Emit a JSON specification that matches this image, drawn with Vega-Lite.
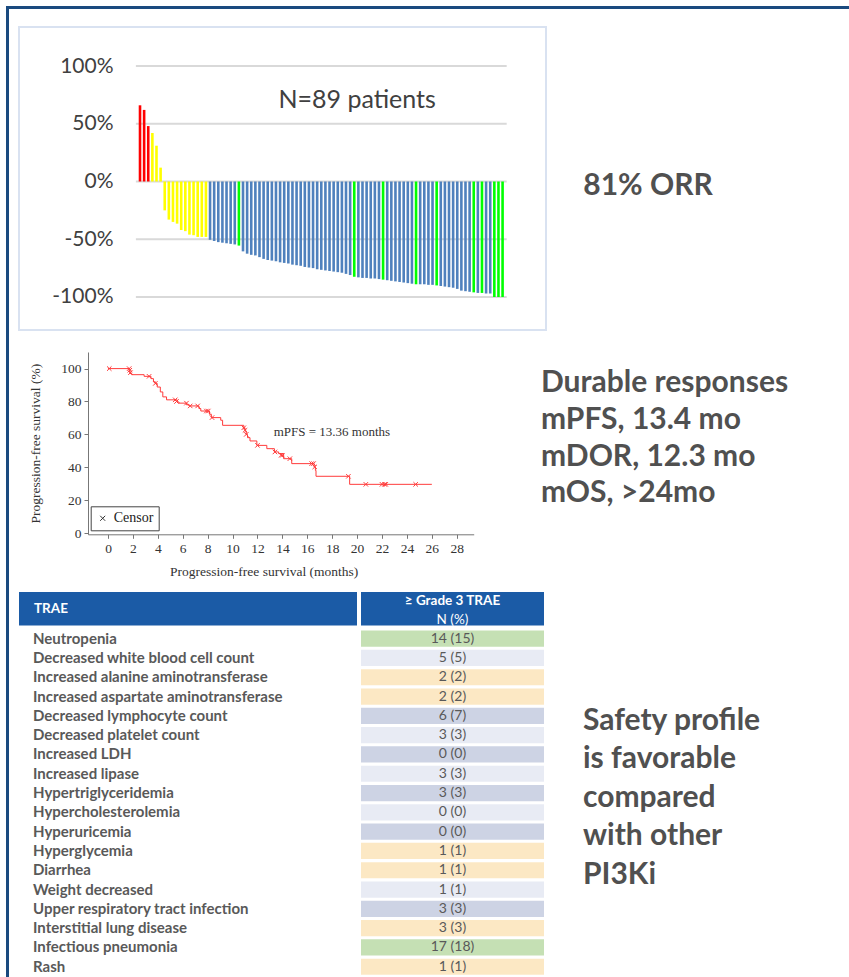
{
  "$schema": "https://vega.github.io/schema/vega-lite/v6.json",
  "background": "white",
  "padding": {"left": 6, "top": 6, "right": 0, "bottom": 0},
  "config": {
    "view": {"stroke": null},
    "font": "Lato",
    "axis": {
      "labelFont": "Liberation Serif", "labelFontSize": 13.5, "labelColor": "#333",
      "titleFont": "Liberation Serif", "titleFontSize": 13.5, "titleFontWeight": "normal", "titleColor": "#333",
      "domainColor": "#777", "tickColor": "#777", "tickSize": 4, "labelPadding": 3, "grid": false,
      "labelFlush": false, "labelOverlap": false
    }
  },
  "datasets": {
    "waterfall": [
      {"rank": 1, "pct": 66, "resp": "PD"}, {"rank": 2, "pct": 62, "resp": "PD"}, {"rank": 3, "pct": 48, "resp": "PD"},
      {"rank": 4, "pct": 42, "resp": "SD"}, {"rank": 5, "pct": 31, "resp": "SD"}, {"rank": 6, "pct": 12, "resp": "SD"},
      {"rank": 7, "pct": -25, "resp": "SD"}, {"rank": 8, "pct": -33, "resp": "SD"}, {"rank": 9, "pct": -35, "resp": "SD"},
      {"rank": 10, "pct": -36.5, "resp": "SD"}, {"rank": 11, "pct": -42, "resp": "SD"}, {"rank": 12, "pct": -43, "resp": "SD"},
      {"rank": 13, "pct": -46, "resp": "SD"}, {"rank": 14, "pct": -46.5, "resp": "SD"}, {"rank": 15, "pct": -48, "resp": "SD"},
      {"rank": 16, "pct": -48, "resp": "SD"}, {"rank": 17, "pct": -48, "resp": "SD"},
      {"rank": 18, "pct": -50.5, "resp": "PR"}, {"rank": 19, "pct": -51.5, "resp": "PR"}, {"rank": 20, "pct": -52.5, "resp": "PR"},
      {"rank": 21, "pct": -53, "resp": "PR"}, {"rank": 22, "pct": -53.5, "resp": "PR"}, {"rank": 23, "pct": -54, "resp": "PR"},
      {"rank": 24, "pct": -54.5, "resp": "PR"}, {"rank": 25, "pct": -55.5, "resp": "CR"}, {"rank": 26, "pct": -60.5, "resp": "PR"},
      {"rank": 27, "pct": -62.5, "resp": "PR"}, {"rank": 28, "pct": -63.5, "resp": "PR"}, {"rank": 29, "pct": -64, "resp": "PR"},
      {"rank": 30, "pct": -65.5, "resp": "PR"}, {"rank": 31, "pct": -67, "resp": "PR"}, {"rank": 32, "pct": -68, "resp": "PR"},
      {"rank": 33, "pct": -68.5, "resp": "PR"}, {"rank": 34, "pct": -69, "resp": "PR"}, {"rank": 35, "pct": -70, "resp": "PR"},
      {"rank": 36, "pct": -70.5, "resp": "PR"}, {"rank": 37, "pct": -71, "resp": "PR"}, {"rank": 38, "pct": -72, "resp": "PR"},
      {"rank": 39, "pct": -72.5, "resp": "PR"}, {"rank": 40, "pct": -73, "resp": "PR"}, {"rank": 41, "pct": -74, "resp": "PR"},
      {"rank": 42, "pct": -74.5, "resp": "PR"}, {"rank": 43, "pct": -75, "resp": "PR"}, {"rank": 44, "pct": -76, "resp": "PR"},
      {"rank": 45, "pct": -76.5, "resp": "PR"}, {"rank": 46, "pct": -77, "resp": "PR"}, {"rank": 47, "pct": -77.5, "resp": "PR"},
      {"rank": 48, "pct": -78, "resp": "PR"}, {"rank": 49, "pct": -78.5, "resp": "PR"}, {"rank": 50, "pct": -79, "resp": "PR"},
      {"rank": 51, "pct": -80, "resp": "PR"}, {"rank": 52, "pct": -81, "resp": "PR"}, {"rank": 53, "pct": -82.5, "resp": "CR"},
      {"rank": 54, "pct": -83, "resp": "PR"}, {"rank": 55, "pct": -83.5, "resp": "PR"}, {"rank": 56, "pct": -83.5, "resp": "PR"},
      {"rank": 57, "pct": -84, "resp": "PR"}, {"rank": 58, "pct": -84, "resp": "PR"}, {"rank": 59, "pct": -84.5, "resp": "PR"},
      {"rank": 60, "pct": -85, "resp": "CR"}, {"rank": 61, "pct": -85.5, "resp": "PR"}, {"rank": 62, "pct": -86, "resp": "PR"},
      {"rank": 63, "pct": -86.5, "resp": "PR"}, {"rank": 64, "pct": -87, "resp": "PR"}, {"rank": 65, "pct": -87.5, "resp": "PR"},
      {"rank": 66, "pct": -88, "resp": "PR"}, {"rank": 67, "pct": -88.5, "resp": "PR"}, {"rank": 68, "pct": -89, "resp": "CR"},
      {"rank": 69, "pct": -89, "resp": "PR"}, {"rank": 70, "pct": -89, "resp": "PR"}, {"rank": 71, "pct": -89.5, "resp": "PR"},
      {"rank": 72, "pct": -89.5, "resp": "PR"}, {"rank": 73, "pct": -90, "resp": "CR"}, {"rank": 74, "pct": -90.5, "resp": "PR"},
      {"rank": 75, "pct": -91, "resp": "PR"}, {"rank": 76, "pct": -91.5, "resp": "PR"}, {"rank": 77, "pct": -92, "resp": "PR"},
      {"rank": 78, "pct": -93, "resp": "PR"}, {"rank": 79, "pct": -94.5, "resp": "PR"}, {"rank": 80, "pct": -95, "resp": "PR"},
      {"rank": 81, "pct": -95.5, "resp": "PR"}, {"rank": 82, "pct": -96, "resp": "CR"}, {"rank": 83, "pct": -96.5, "resp": "PR"},
      {"rank": 84, "pct": -96.5, "resp": "CR"}, {"rank": 85, "pct": -97, "resp": "PR"}, {"rank": 86, "pct": -97, "resp": "PR"},
      {"rank": 87, "pct": -100, "resp": "CR"}, {"rank": 88, "pct": -100, "resp": "CR"}, {"rank": 89, "pct": -100, "resp": "CR"}
    ],
    "km": [
      {"t": 0, "s": 100}, {"t": 1.75, "s": 97}, {"t": 1.9, "s": 96.3}, {"t": 2.9, "s": 95.3}, {"t": 3.45, "s": 93.9},
      {"t": 3.65, "s": 92}, {"t": 3.8, "s": 91}, {"t": 3.95, "s": 88.8}, {"t": 4.2, "s": 85.8}, {"t": 4.4, "s": 82.8},
      {"t": 4.7, "s": 81}, {"t": 5.55, "s": 79.7}, {"t": 5.7, "s": 79}, {"t": 6.3, "s": 78}, {"t": 6.5, "s": 77.3},
      {"t": 7.3, "s": 75.7}, {"t": 7.45, "s": 74.2}, {"t": 8.15, "s": 72.2}, {"t": 8.3, "s": 70.2}, {"t": 9.05, "s": 68.6},
      {"t": 9.2, "s": 65.5}, {"t": 10.9, "s": 64}, {"t": 11.0, "s": 62}, {"t": 11.1, "s": 60}, {"t": 11.2, "s": 58},
      {"t": 11.4, "s": 56}, {"t": 11.95, "s": 53.3}, {"t": 12.75, "s": 51.3}, {"t": 13.36, "s": 49.3}, {"t": 13.7, "s": 48.3},
      {"t": 14.1, "s": 45.2}, {"t": 14.75, "s": 42.2}, {"t": 16.55, "s": 40.2}, {"t": 16.65, "s": 38.1}, {"t": 16.7, "s": 34.5},
      {"t": 19.4, "s": 29.6}, {"t": 26.0, "s": 29.6}
    ],
    "censor": [
      {"t": 0.1, "s": 100}, {"t": 1.7, "s": 100}, {"t": 1.75, "s": 99}, {"t": 1.8, "s": 97.5}, {"t": 3.3, "s": 95.3},
      {"t": 3.8, "s": 91}, {"t": 5.4, "s": 81}, {"t": 5.5, "s": 80}, {"t": 6.3, "s": 79}, {"t": 6.6, "s": 77.3},
      {"t": 7.2, "s": 77.3}, {"t": 7.9, "s": 74.2}, {"t": 8.05, "s": 74.2}, {"t": 8.35, "s": 70.2}, {"t": 10.9, "s": 64},
      {"t": 11.0, "s": 62.5}, {"t": 11.1, "s": 60}, {"t": 12.0, "s": 53.3}, {"t": 13.4, "s": 49.3}, {"t": 13.9, "s": 47.3},
      {"t": 14.0, "s": 47.3}, {"t": 14.6, "s": 45.2}, {"t": 16.35, "s": 42.2}, {"t": 16.5, "s": 42.2}, {"t": 16.6, "s": 40.2},
      {"t": 19.3, "s": 34.5}, {"t": 20.7, "s": 29.6}, {"t": 22.0, "s": 29.6}, {"t": 22.2, "s": 29.6}, {"t": 22.3, "s": 29.6},
      {"t": 24.7, "s": 29.6}
    ],
    "trae": [
      {"row": 1, "ae": "Neutropenia", "grade3": "14 (15)", "grp": "common"},
      {"row": 2, "ae": "Decreased white blood cell count", "grade3": "5 (5)", "grp": "other"},
      {"row": 3, "ae": "Increased alanine aminotransferase", "grade3": "2 (2)", "grp": "pi3k"},
      {"row": 4, "ae": "Increased aspartate aminotransferase", "grade3": "2 (2)", "grp": "pi3k"},
      {"row": 5, "ae": "Decreased lymphocyte count", "grade3": "6 (7)", "grp": "other"},
      {"row": 6, "ae": "Decreased platelet count", "grade3": "3 (3)", "grp": "other"},
      {"row": 7, "ae": "Increased LDH", "grade3": "0 (0)", "grp": "other"},
      {"row": 8, "ae": "Increased lipase", "grade3": "3 (3)", "grp": "other"},
      {"row": 9, "ae": "Hypertriglyceridemia", "grade3": "3 (3)", "grp": "other"},
      {"row": 10, "ae": "Hypercholesterolemia", "grade3": "0 (0)", "grp": "other"},
      {"row": 11, "ae": "Hyperuricemia", "grade3": "0 (0)", "grp": "other"},
      {"row": 12, "ae": "Hyperglycemia", "grade3": "1 (1)", "grp": "pi3k"},
      {"row": 13, "ae": "Diarrhea", "grade3": "1 (1)", "grp": "pi3k"},
      {"row": 14, "ae": "Weight decreased", "grade3": "1 (1)", "grp": "other"},
      {"row": 15, "ae": "Upper respiratory tract infection", "grade3": "3 (3)", "grp": "other"},
      {"row": 16, "ae": "Interstitial lung disease", "grade3": "3 (3)", "grp": "pi3k"},
      {"row": 17, "ae": "Infectious pneumonia", "grade3": "17 (18)", "grp": "common"},
      {"row": 18, "ae": "Rash", "grade3": "1 (1)", "grp": "pi3k"}
    ]
  },
  "spacing": 0,
  "bounds": "full",
  "resolve": {"scale": {"color": "independent", "shape": "independent"}, "legend": {"color": "independent", "shape": "independent"}},
  "hconcat": [
    {"width": 3, "height": 971, "data": {"values": []}, "mark": "point", "view": {"fill": "#1a4a7f", "stroke": null}},
    {
      "spacing": 17,
      "bounds": "full",
      "resolve": {"scale": {"color": "independent", "shape": "independent"}, "legend": {"color": "independent", "shape": "independent"}},
      "vconcat": [
        {"width": 840, "height": 3, "data": {"values": []}, "mark": "point", "view": {"fill": "#1a4a7f", "stroke": null}},
        {
          "spacing": 0,
          "bounds": "full",
          "resolve": {"scale": {"color": "independent", "shape": "independent"}, "legend": {"color": "independent", "shape": "independent"}},
          "hconcat": [
            {"width": 9, "height": 1, "data": {"values": []}, "mark": "point"},
            {
              "spacing": 0,
              "bounds": "full",
              "resolve": {"scale": {"color": "independent", "shape": "independent"}, "legend": {"color": "independent", "shape": "independent"}},
              "vconcat": [
                {
                  "spacing": 10,
                  "bounds": "flush",
                  "resolve": {"scale": {"color": "independent"}, "legend": {"color": "independent"}},
                  "hconcat": [
                    {
                      "width": 527,
                      "height": 303,
                      "view": {"stroke": "#d9e2f1", "strokeWidth": 2, "fill": "white"},
                      "layer": [
                        {
                          "data": {"values": [{"v": 100}, {"v": 50}, {"v": 0}, {"v": -50}, {"v": -100}]},
                          "mark": {"type": "rule", "color": "#d9d9d9", "strokeWidth": 2},
                          "encoding": {
                            "y": {"field": "v", "type": "quantitative",
                              "scale": {"domain": [-128.6, 133.8], "nice": false, "zero": false},
                              "axis": {"values": [-100, -50, 0, 50, 100], "orient": "left", "offset": -94, "domain": false,
                                "ticks": false, "tickSize": 0, "labelPadding": 0, "grid": false, "title": null,
                                "labelExpr": "datum.value + '%'", "labelFont": "Lato", "labelFontSize": 21, "labelColor": "#404040"}},
                            "x": {"datum": 0, "type": "quantitative", "scale": {"domain": [-28.37, 99.54], "nice": false, "zero": false, "padding": 0}, "axis": null},
                            "x2": {"datum": 90}
                          }
                        },
                        {
                          "data": {"name": "waterfall"},
                          "mark": {"type": "bar", "orient": "vertical", "size": 2.6},
                          "encoding": {
                            "x": {"field": "rank", "type": "quantitative", "scale": {"domain": [-28.37, 99.54], "nice": false, "zero": false, "padding": 0}, "axis": null},
                            "y": {"field": "pct", "type": "quantitative", "scale": {"domain": [-128.6, 133.8], "nice": false, "zero": false}},
                            "y2": {"datum": 0},
                            "color": {"field": "resp", "type": "nominal",
                              "scale": {"domain": ["PD", "SD", "PR", "CR"], "range": ["#ff0000", "#ffff00", "#4f81bd", "#00ff00"]},
                              "legend": null}
                          }
                        },
                        {
                          "data": {"values": [{"note": "N=89 patients"}]},
                          "mark": {"type": "text", "font": "Lato", "fontSize": 25, "color": "#404040", "align": "center", "baseline": "middle"},
                          "encoding": {
                            "text": {"field": "note"},
                            "x": {"datum": 53.7, "type": "quantitative", "axis": null},
                            "y": {"datum": 70.6, "type": "quantitative"}
                          }
                        }
                      ]
                    },
                    {
                      "width": 184,
                      "height": 324.7,
                      "data": {"values": [{"t": "81% ORR"}]},
                      "mark": {"type": "text", "font": "Lato", "fontSize": 30, "fontWeight": "bold", "color": "#505050", "align": "center", "baseline": "middle", "dy": -3.35},
                      "encoding": {"text": {"field": "t"}}
                    }
                  ]
                },
                {
                  "spacing": 0,
                  "bounds": "flush",
                  "resolve": {"scale": {"shape": "independent"}, "legend": {"shape": "independent"}},
                  "hconcat": [
                    {"width": 68.3, "height": 1, "data": {"values": []}, "mark": "point"},
                    {
                      "width": 385.7,
                      "height": 182.3,
                      "layer": [
                        {
                          "data": {"name": "km"},
                          "mark": {"type": "line", "interpolate": "step-after", "color": "#ff3b3b", "strokeWidth": 1},
                          "encoding": {
                            "x": {"field": "t", "type": "quantitative",
                              "scale": {"domain": [-1.606, 29.36], "nice": false, "zero": false},
                              "axis": {"values": [0, 2, 4, 6, 8, 10, 12, 14, 16, 18, 20, 22, 24, 26, 28],
                                "title": "Progression-free survival (months)", "titleX": 175.7, "titlePadding": 10}},
                            "y": {"field": "s", "type": "quantitative",
                              "scale": {"domain": [-0.79, 110.1], "nice": false, "zero": false},
                              "axis": {"values": [0, 20, 40, 60, 80, 100],
                                "title": "Progression-free survival (%)", "titlePadding": 18}}
                          }
                        },
                        {
                          "data": {"name": "censor"},
                          "mark": {"type": "point", "filled": false, "strokeWidth": 1, "size": 20, "color": "#ff3b3b", "opacity": 1},
                          "encoding": {
                            "x": {"field": "t", "type": "quantitative",
                              "scale": {"domain": [-1.606, 29.36], "nice": false, "zero": false},
                              "axis": {"values": [0, 2, 4, 6, 8, 10, 12, 14, 16, 18, 20, 22, 24, 26, 28],
                                "title": "Progression-free survival (months)", "titleX": 175.7, "titlePadding": 10}},
                            "y": {"field": "s", "type": "quantitative",
                              "scale": {"domain": [-0.79, 110.1], "nice": false, "zero": false},
                              "axis": {"values": [0, 20, 40, 60, 80, 100],
                                "title": "Progression-free survival (%)", "titlePadding": 18}},
                            "shape": {"datum": "Censor", "type": "nominal",
                              "scale": {"domain": ["Censor"], "range": ["M-1,-1L1,1M-1,1L1,-1"]},
                              "legend": {"title": null, "orient": "none", "legendX": 2.7, "legendY": 154.3,
                                "strokeColor": "#444", "fillColor": "white", "padding": 5, "cornerRadius": 0,
                                "labelFont": "Liberation Serif", "labelFontSize": 14, "labelColor": "#222",
                                "symbolStrokeColor": "#333", "symbolFillColor": "transparent", "symbolSize": 25,
                                "symbolStrokeWidth": 1, "labelOffset": 4}}
                          }
                        },
                        {
                          "data": {"values": [{"note": "mPFS = 13.36 months"}]},
                          "mark": {"type": "text", "align": "left", "baseline": "middle", "font": "Liberation Serif", "fontSize": 13, "color": "#333"},
                          "encoding": {
                            "text": {"field": "note"},
                            "x": {"datum": 13.3, "type": "quantitative",
                              "scale": {"domain": [-1.606, 29.36], "nice": false, "zero": false},
                              "axis": {"values": [0, 2, 4, 6, 8, 10, 12, 14, 16, 18, 20, 22, 24, 26, 28],
                                "title": "Progression-free survival (months)", "titleX": 175.7, "titlePadding": 10}},
                            "y": {"datum": 61.2, "type": "quantitative",
                              "scale": {"domain": [-0.79, 110.1], "nice": false, "zero": false},
                              "axis": {"values": [0, 20, 40, 60, 80, 100],
                                "title": "Progression-free survival (%)", "titlePadding": 18}}
                          }
                        }
                      ]
                    },
                    {
                      "width": 134,
                      "height": 239.5,
                      "data": {"values": [{"lines": ["Durable responses", "mPFS, 13.4 mo", "mDOR, 12.3 mo", "mOS, >24mo"]}]},
                      "mark": {"type": "text", "font": "Lato", "fontSize": 30, "fontWeight": "bold", "color": "#505050", "align": "left", "baseline": "middle", "lineHeight": 36.7, "dy": -88.5},
                      "encoding": {"text": {"field": "lines"}}
                    }
                  ]
                },
                {
                  "spacing": 0,
                  "bounds": "full",
                  "resolve": {"scale": {"color": "independent"}, "legend": {"color": "independent"}},
                  "hconcat": [
                    {
                      "spacing": 2,
                      "bounds": "full",
                      "vconcat": [
                        {
                          "spacing": 4,
                          "bounds": "flush",
                          "hconcat": [
                            {
                              "width": 338,
                              "height": 33.5,
                              "view": {"fill": "#1b5ba6", "stroke": null},
                              "data": {"values": [{"h": "TRAE"}]},
                              "mark": {"type": "text", "align": "left", "baseline": "middle", "dx": 15, "font": "Lato", "fontSize": 13.5, "fontWeight": "bold", "color": "white"},
                              "encoding": {
                                "text": {"field": "h"},
                                "x": {"datum": 0, "type": "quantitative", "scale": {"domain": [0, 1]}, "axis": null}
                              }
                            },
                            {
                              "width": 183,
                              "height": 33.5,
                              "view": {"fill": "#1b5ba6", "stroke": null},
                              "layer": [
                                {
                                  "data": {"values": [{"h": "≥ Grade 3 TRAE"}]},
                                  "mark": {"type": "text", "align": "center", "baseline": "middle", "dy": -7.5, "font": "Lato", "fontSize": 13.5, "fontWeight": "bold", "color": "white"},
                                  "encoding": {"text": {"field": "h"}}
                                },
                                {
                                  "data": {"values": [{"h": "N (%)"}]},
                                  "mark": {"type": "text", "align": "center", "baseline": "middle", "dy": 11, "font": "Lato", "fontSize": 13.5, "color": "white"},
                                  "encoding": {"text": {"field": "h"}}
                                }
                              ]
                            }
                          ]
                        },
                        {
                          "spacing": 4,
                          "bounds": "flush",
                          "hconcat": [
                            {
                              "width": 338,
                              "height": 347.4,
                              "data": {"name": "trae"},
                              "mark": {"type": "text", "align": "left", "baseline": "middle", "dx": 14, "font": "Lato", "fontSize": 15, "fontWeight": "bold", "color": "#595959"},
                              "encoding": {
                                "y": {"field": "ae", "type": "nominal", "sort": null, "scale": {"paddingInner": 0.16, "paddingOuter": 0.08}, "axis": null},
                                "x": {"datum": 0, "type": "quantitative", "scale": {"domain": [0, 1]}, "axis": null},
                                "text": {"field": "ae"}
                              }
                            },
                            {
                              "width": 183,
                              "height": 347.4,
                              "data": {"name": "trae"},
                              "encoding": {
                                "y": {"field": "ae", "type": "nominal", "sort": null, "scale": {"paddingInner": 0.16, "paddingOuter": 0.08}, "axis": null}
                              },
                              "layer": [
                                {
                                  "mark": {"type": "rect"},
                                  "encoding": {
                                    "x": {"datum": 0, "type": "quantitative", "scale": {"domain": [0, 1], "nice": false}, "axis": null},
                                    "x2": {"datum": 1},
                                    "color": {
                                      "condition": [
                                        {"test": "datum.grp === 'other' && datum.row % 2 === 0", "value": "#e8ebf4"},
                                        {"test": "datum.grp === 'other'", "value": "#cdd3e4"}
                                      ],
                                      "field": "grp", "type": "nominal",
                                      "scale": {"domain": ["common", "pi3k", "other"], "range": ["#c5e0b4", "#fce8c4", "#cdd3e4"]},
                                      "legend": null
                                    }
                                  }
                                },
                                {
                                  "mark": {"type": "text", "align": "center", "baseline": "middle", "font": "Lato", "fontSize": 14, "color": "#595959"},
                                  "encoding": {"text": {"field": "grade3"}}
                                }
                              ]
                            }
                          ]
                        }
                      ]
                    },
                    {
                      "width": 78,
                      "height": 382.9,
                      "data": {"values": [{"lines": ["Safety profile", "is favorable", "compared", "with other", "PI3Ki"]}]},
                      "mark": {"type": "text", "font": "Lato", "fontSize": 30, "fontWeight": "bold", "color": "#505050", "align": "left", "baseline": "middle", "lineHeight": 38.5, "dy": -62.65},
                      "encoding": {"text": {"field": "lines"}}
                    }
                  ]
                }
              ]
            }
          ]
        }
      ]
    }
  ]
}
